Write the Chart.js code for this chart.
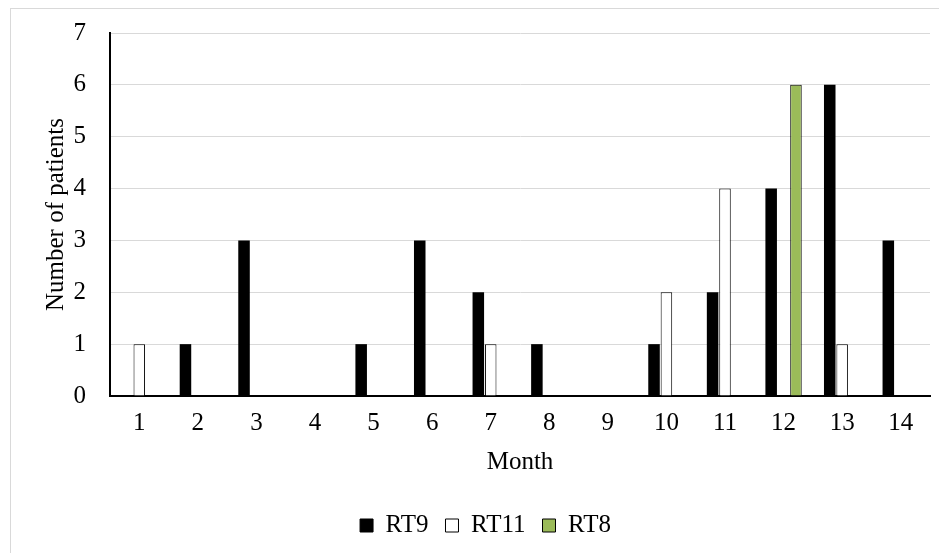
<!DOCTYPE html>
<html>
<head>
<meta charset="utf-8">
<script src="https://cdn.jsdelivr.net/npm/chart.js@4/dist/chart.umd.min.js"></script>
<style>
  html, body { margin: 0; padding: 0; background: #fff; }
  #wrap { position: relative; width: 939px; height: 553px; overflow: hidden; }
  #frame { position: absolute; left: 10px; top: 8px; width: 960px; height: 600px; border: 1px solid #d9d9d9; box-sizing: border-box; }
  canvas { position: absolute; left: 0; top: 0; }
</style>
</head>
<body>
<div id="wrap">
  <div id="frame"></div>
  <canvas id="c" width="939" height="553"></canvas>
</div>
<script>
const months = ['1','2','3','4','5','6','7','8','9','10','11','12','13','14'];
const rt9  = [0,1,3,0,1,3,2,1,0,1,2,4,6,3];
const rt11 = [1,0,0,0,0,0,1,0,0,2,4,0,1,0];
const rt8  = [0,0,0,0,0,0,0,0,0,0,0,6,0,0];
const yTicks = [0,1,2,3,4,5,6,7];
const xTitle = 'Month';
const yTitle = 'Number of patients';

const FONT = 'Liberation Serif, "Times New Roman", serif';
const FS = 25;

new Chart(document.getElementById('c'), {
  type: 'bar',
  data: {
    labels: months,
    datasets: [
      { label: 'RT9', data: rt9, backgroundColor: '#000000', borderColor: '#000000', borderWidth: 0 },
      { label: 'RT11', data: rt11, backgroundColor: '#ffffff', borderColor: '#000000', borderWidth: 1 },
      { label: 'RT8', data: rt8, backgroundColor: '#9bbb59', borderColor: '#000000', borderWidth: 1 }
    ]
  },
  options: {
    responsive: false,
    animation: false,
    datasets: { bar: { categoryPercentage: 0.635, barPercentage: 0.93 } },
    layout: { padding: { top: 33, right: 9, left: 41, bottom: 5 } },
    plugins: {
      legend: {
        position: 'bottom',
        labels: {
          color: '#000',
          font: { family: FONT, size: FS },
          boxWidth: 13, boxHeight: 13, padding: 17,
          generateLabels(chart) {
            return chart.data.datasets.map((ds, i) => ({
              text: ds.label, fillStyle: ds.backgroundColor, strokeStyle: '#000', lineWidth: 1,
              fontColor: '#000', datasetIndex: i, hidden: false
            }));
          }
        }
      },
      tooltip: { enabled: false }
    },
    scales: {
      x: {
        afterFit(scale) { scale.height = 100; },
        grid: { display: false, drawTicks: false },
        border: { display: true, color: '#000', width: 2 },
        ticks: { color: '#000', font: { family: FONT, size: FS }, padding: 12, maxRotation: 0 },
        title: { display: true, text: xTitle, color: '#000', font: { family: FONT, size: FS }, padding: { top: 0, bottom: 19 } }
      },
      y: {
        min: 0, max: 7,
        afterFit(scale) { scale.width = 69; scale.paddingTop = 0; scale.paddingBottom = 0; },
        afterBuildTicks(scale) { scale.ticks = yTicks.map(v => ({ value: v })); },
        grid: { color: '#d9d9d9', lineWidth: 1, drawTicks: false },
        border: { display: true, color: '#000', width: 2 },
        ticks: { color: '#000', font: { family: FONT, size: FS }, padding: 24, stepSize: 1 },
        title: { display: true, text: yTitle, color: '#000', font: { family: FONT, size: FS }, padding: { top: 0, bottom: 0 } }
      }
    }
  }
});
</script>
</body>
</html>
